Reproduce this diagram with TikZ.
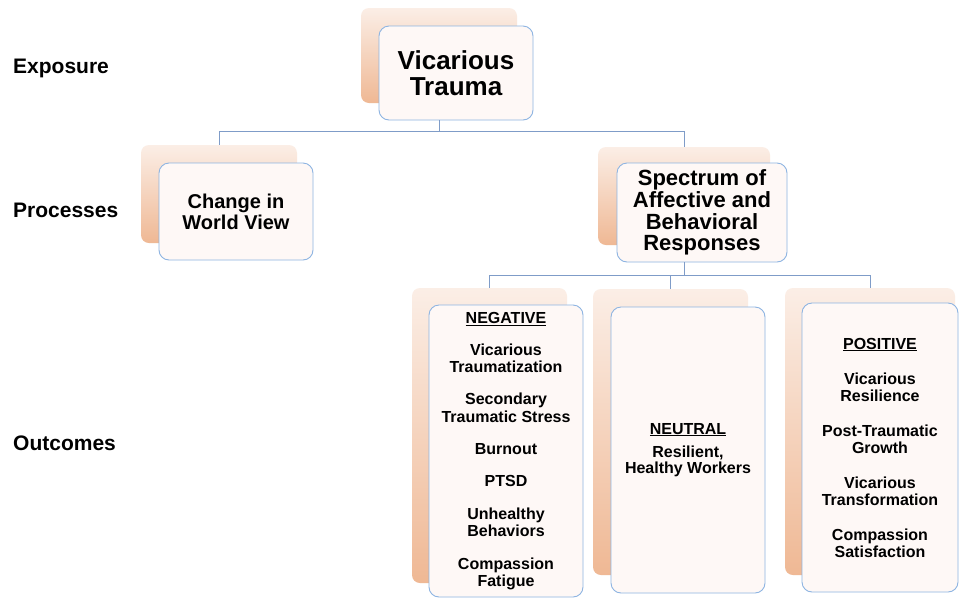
\documentclass[tikz,border=0pt]{standalone}
\usepackage{fontspec}
\setmainfont{Liberation Sans}
\definecolor{edgeblue}{HTML}{8DB4E2}
\definecolor{linkblue}{HTML}{7F9CC8}
\definecolor{frontfill}{HTML}{FEF8F6}
\definecolor{peachdark}{HTML}{EFB894}
\definecolor{peachlight}{HTML}{FBEEE6}
\tikzset{
 backbox/.style={rectangle, rounded corners=8pt, top color=peachlight, bottom color=peachdark, draw=none, inner sep=0pt},
 frontbox/.style={rectangle, rounded corners=10pt, fill=frontfill, draw=edgeblue, line width=0.9pt, inner sep=0pt, align=center},
 link/.style={draw=linkblue, line width=1pt},
 lvl/.style={anchor=base west, inner sep=0pt, font=\bfseries\fontsize{21}{24}\selectfont}
}
\begin{document}
\begin{tikzpicture}[x=1pt,y=-1pt]
\useasboundingbox[fill=white] (0,0) rectangle (959,598);
\coordinate (row1) at (0,131);
\coordinate (row2) at (0,275);
% level labels
\node[lvl] (exp) at (13,73) {Exposure};
\node[lvl] (proc) at (13,217) {Processes};
\node[lvl] (out) at (13,450) {Outcomes};
% top
\node[backbox, minimum width=156pt, minimum height=95pt] (vtb) at (439,55.5) {};
\node[frontbox, minimum width=154pt, minimum height=94pt, font=\bfseries\fontsize{26}{26}\selectfont] (vtf) at (456,73) {Vicarious\\Trauma};
% processes
\node[backbox, minimum width=156pt, minimum height=98pt] (cwb) at (219,194) {};
\node[frontbox, minimum width=154pt, minimum height=97pt, font=\bfseries\fontsize{20}{21}\selectfont] (cwf) at (236,211.5) {Change in\\World View};
\node[backbox, minimum width=172pt, minimum height=98pt] (spb) at (684,196) {};
\node[frontbox, minimum width=170pt, minimum height=99pt, font=\bfseries\fontsize{22}{21.7}\selectfont] (spf) at (702,212.5) {Spectrum of\\Affective and\\Behavioral\\Responses};
% outcomes
\node[backbox, minimum width=155pt, minimum height=295pt] (negb) at (489.5,435.5) {};
\node[frontbox, minimum width=154pt, minimum height=292pt, font=\bfseries\fontsize{16}{17.5}\selectfont] (negf) at (506,451) {\underline{NEGATIVE}\\[14.5pt]Vicarious\\Traumatization\\[14.5pt]Secondary\\Traumatic Stress\\[14.5pt]Burnout\\[15pt]PTSD\\[15pt]Unhealthy\\Behaviors\\[15pt]Compassion\\Fatigue};
\node[backbox, minimum width=155pt, minimum height=286pt] (neub) at (670.5,432) {};
\node[frontbox, minimum width=154pt, minimum height=286pt, font=\bfseries\fontsize{16}{16.5}\selectfont] (neuf) at (688,450) {\underline{NEUTRAL}\\[6.5pt]Resilient,\\Healthy Workers};
\node[backbox, minimum width=170pt, minimum height=287pt] (posb) at (870,431.5) {};
\node[frontbox, minimum width=156pt, minimum height=289pt, font=\bfseries\fontsize{16}{17}\selectfont] (posf) at (880,447.5) {\underline{POSITIVE}\\[18pt]Vicarious\\Resilience\\[18pt]Post-Traumatic\\Growth\\[18pt]Vicarious\\Transformation\\[18pt]Compassion\\Satisfaction};
% connectors
\draw[link] (vtf.south -| vtb.center) -- (vtb.center |- row1) -| (cwb.north);
\draw[link] (vtb.center |- row1) -| (spb.north);
\draw[link] (spf.south -| spb.center) -- (spb.center |- row2) -| (negb.north);
\draw[link] (spb.center |- row2) -| (neub.north);
\draw[link] (spb.center |- row2) -| (posb.north);
\end{tikzpicture}
\end{document}
